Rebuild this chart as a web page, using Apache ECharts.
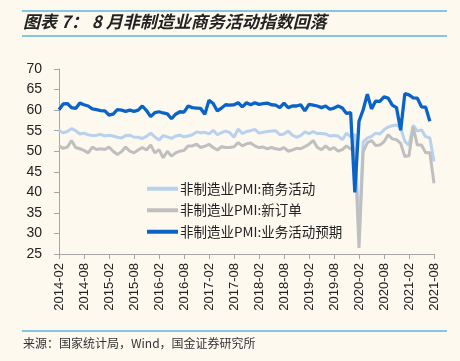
<!DOCTYPE html>
<html><head><meta charset="utf-8">
<script src="https://cdn.jsdelivr.net/npm/echarts@6/dist/echarts.min.js"></script>
<style>html,body{margin:0;padding:0;background:#fdf9ee;}#c{width:460px;height:361px;}</style>
</head><body><div id="c"></div>
<script>
// Months 2014-02 .. 2021-08
const months = [];
for (let y = 2014; y <= 2021; y++) { for (let m = 1; m <= 12; m++) { if ((y === 2014 && m < 2) || (y === 2021 && m > 8)) continue; months.push(y + '-' + String(m).padStart(2, '0')); } }

const businessActivity = [
55.0,54.5,54.8,55.5,55.0,54.2,54.4,54.0,53.8,53.9,54.1,
53.7,53.9,53.7,53.4,53.2,53.8,53.9,53.4,53.4,53.1,53.6,54.4,
53.5,52.7,53.8,53.5,53.1,53.7,53.9,53.5,53.7,54.0,54.7,54.5,
54.6,54.2,55.1,54.0,54.5,54.9,54.5,53.4,55.4,54.3,54.8,55.0,
55.3,54.4,54.6,54.8,54.9,55.0,54.0,54.2,54.9,53.9,53.4,53.8,
54.7,54.3,54.8,54.3,54.3,54.2,53.7,53.8,53.7,52.8,54.4,53.5,
54.1,29.6,52.3,53.2,53.6,54.4,54.2,55.2,55.9,56.2,56.4,55.7,
52.4,51.4,56.3,54.9,55.2,53.5,53.3,47.5];

const newOrders = [
51.3,50.7,51.0,52.6,50.9,50.6,50.2,49.6,51.0,50.4,50.6,
50.4,51.0,50.0,49.2,49.9,51.0,50.0,49.6,50.3,50.9,50.3,51.5,
49.6,50.4,48.4,50.0,48.8,49.6,50.0,50.2,51.3,51.3,51.7,50.9,
51.2,51.7,50.9,50.3,51.1,50.9,50.9,51.1,52.1,51.3,51.8,52.0,
51.3,50.9,51.0,50.6,50.9,50.6,50.4,50.9,50.0,50.3,50.7,50.6,
51.1,51.7,52.6,50.9,50.4,51.3,50.4,50.9,50.0,50.4,51.3,50.5,
50.8,26.5,49.9,52.1,52.6,51.4,51.5,52.3,54.0,53.0,52.8,51.9,
48.7,48.9,55.9,51.5,51.5,49.6,49.7,42.2];

const expectations = [
60.1,61.5,61.6,60.6,60.4,61.7,61.3,61.0,60.3,60.1,59.9,
59.8,58.8,59.0,60.1,60.0,59.7,60.0,59.7,60.0,61.0,59.9,58.4,
59.4,59.6,59.3,59.1,57.9,59.0,59.6,59.5,61.0,60.6,60.5,60.4,
59.0,62.4,61.6,59.8,60.5,61.3,61.2,61.3,61.8,60.8,61.8,61.3,
61.8,61.4,61.6,61.7,61.3,61.2,60.6,61.7,60.6,61.0,61.0,61.3,
59.8,61.4,61.2,61.0,60.6,61.0,60.2,60.5,61.0,60.5,59.2,59.4,
40.0,57.3,60.1,63.9,60.3,62.2,62.1,63.2,62.9,61.2,60.6,55.1,
64.0,63.7,63.0,62.9,60.8,60.7,57.3];

const seriesNames = ['非制造业PMI:商务活动', '非制造业PMI:新订单', '非制造业PMI:业务活动预期'];
const seriesColors = ['#b7d1ef', '#bfbfbf', '#0a64c8'];
const titleText = '图表 7： 8 月非制造业商务活动指数回落';
const sourceText = '来源：国家统计局，Wind，国金证券研究所';

const chart = echarts.init(document.getElementById('c'), null, {renderer: 'canvas'});
const axisColor = '#a6a6a6';
const cjk = '"Noto Sans CJK SC", "Liberation Sans", sans-serif';
chart.setOption({
  backgroundColor: '#fdf9ee',
  animation: false,
  grid: {left: 59, right: 26, top: 69, bottom: 107, containLabel: false},
  legend: {
    orient: 'vertical', left: 142, top: 177, itemWidth: 31, itemHeight: 4, itemGap: 8,
    icon: 'rect',
    textStyle: {fontSize: 13.5, color: '#222', fontFamily: cjk, padding: [0,0,0,-3]},
    data: seriesNames
  },
  xAxis: {
    type: 'category', data: months, boundaryGap: false,
    axisLine: {lineStyle: {color: axisColor, width: 1}},
    axisTick: {show: true, interval: 5, length: 5, lineStyle: {color: axisColor}},
    axisLabel: {interval: 5, rotate: 90, fontSize: 13, color: '#222', margin: 9, fontFamily: '"Liberation Sans", Arial, sans-serif'},
    splitLine: {show: false}
  },
  yAxis: {
    type: 'value', min: 25, max: 70, interval: 5,
    axisLine: {show: true, lineStyle: {color: axisColor}},
    axisTick: {show: true, length: 5, lineStyle: {color: axisColor}},
    axisLabel: {fontSize: 14, color: '#222', margin: 17, fontFamily: '"Liberation Sans", Arial, sans-serif'},
    splitLine: {show: false}
  },
  series: seriesNames.map((n, k) => ({
    name: n, type: 'line', data: [businessActivity, newOrders, expectations][k],
    symbol: 'none', smooth: false, lineStyle: {width: k === 2 ? 3.3 : 3, color: seriesColors[k]},
    itemStyle: {color: seriesColors[k]}, z: 2 + k
  })),
  graphic: [
    {type: 'line', shape: {x1: 22, y1: 11, x2: 447, y2: 11}, style: {stroke: '#86c5e6', lineWidth: 2}},
    {type: 'line', shape: {x1: 22, y1: 36, x2: 447, y2: 36}, style: {stroke: '#86c5e6', lineWidth: 2}},
    {type: 'text', left: 23, top: 13, style: {text: titleText, fontSize: 17, fontWeight: 'bold', fontStyle: 'italic', fill: '#222', fontFamily: cjk}},
    {type: 'line', shape: {x1: 22, y1: 331, x2: 447, y2: 331}, style: {stroke: '#86c5e6', lineWidth: 2}},
    {type: 'text', left: 23, top: 337, style: {text: sourceText, fontSize: 12, fill: '#333', fontFamily: cjk}}
  ]
});
</script></body></html>
